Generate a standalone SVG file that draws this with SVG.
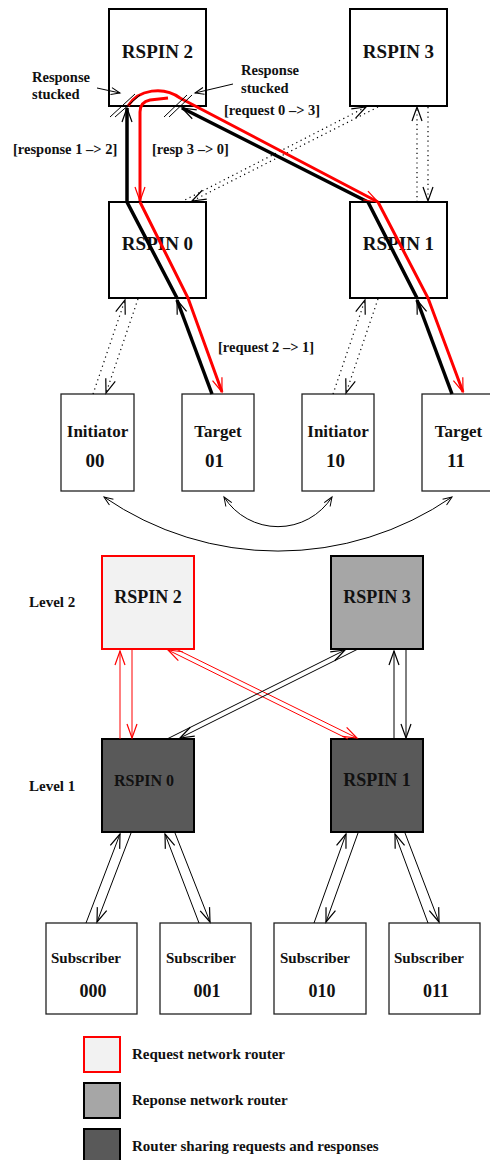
<svg xmlns="http://www.w3.org/2000/svg" width="490" height="1160" viewBox="0 0 490 1160">
<style>
.t{font-family:"Liberation Serif","Times New Roman",serif;font-weight:bold;fill:#111}
.box{fill:#fff;stroke:#000;stroke-width:2}
.tbox{fill:#fff;stroke:#222;stroke-width:1.3}
.thk{fill:none;stroke:#000;stroke-width:3.5}
.thr{fill:none;stroke:#f00;stroke-width:3}
.dot{fill:none;stroke:#000;stroke-width:1.2;stroke-dasharray:1.2 3.6}
.thin{fill:none;stroke:#000;stroke-width:1}
.thinr{fill:none;stroke:#f00;stroke-width:1}
</style>
<defs>
<marker id="ab" markerUnits="userSpaceOnUse" orient="auto" refX="0" refY="0" markerWidth="1" markerHeight="1" overflow="visible"><path d="M-14,-5 L0,0 L-14,5" fill="none" stroke="#000" stroke-width="1.2"/></marker>
<marker id="ar" markerUnits="userSpaceOnUse" orient="auto" refX="0" refY="0" markerWidth="1" markerHeight="1" overflow="visible"><path d="M-14,-5 L0,0 L-14,5" fill="none" stroke="#f00" stroke-width="1.2"/></marker>
<marker id="as" markerUnits="userSpaceOnUse" orient="auto-start-reverse" refX="0" refY="0" markerWidth="1" markerHeight="1" overflow="visible"><path d="M-9,-3.5 L0,0 L-9,3.5" fill="none" stroke="#000" stroke-width="1"/></marker>
</defs>
<rect width="490" height="1160" fill="#fff"/>

<!-- top section nodes -->
<g id="t-rspin2"><rect class="box" x="109" y="9" width="97" height="97"/><text class="t" x="157.5" y="58" font-size="19" text-anchor="middle">RSPIN 2</text></g>
<g id="t-rspin3"><rect class="box" x="350" y="9" width="97" height="97"/><text class="t" x="398.5" y="58" font-size="19" text-anchor="middle">RSPIN 3</text></g>
<g id="t-rspin0"><rect class="box" x="109" y="202" width="97" height="96"/><text class="t" x="157.5" y="250" font-size="19" text-anchor="middle">RSPIN 0</text></g>
<g id="t-rspin1"><rect class="box" x="350" y="202" width="97" height="96"/><text class="t" x="398.5" y="250" font-size="19" text-anchor="middle">RSPIN 1</text></g>
<g id="init00"><rect class="tbox" x="61" y="394" width="73" height="97"/><text class="t" x="97.5" y="437" font-size="17" text-anchor="middle">Initiator</text><text class="t" x="95" y="467" font-size="19" text-anchor="middle">00</text></g>
<g id="targ01"><rect class="tbox" x="182" y="394" width="72" height="97"/><text class="t" x="218" y="437" font-size="17" text-anchor="middle">Target</text><text class="t" x="214.5" y="467" font-size="19" text-anchor="middle">01</text></g>
<g id="init10"><rect class="tbox" x="302" y="394" width="72" height="97"/><text class="t" x="338" y="437" font-size="17" text-anchor="middle">Initiator</text><text class="t" x="335.5" y="467" font-size="19" text-anchor="middle">10</text></g>
<g id="targ11"><rect class="tbox" x="422" y="394" width="73" height="97"/><text class="t" x="458.5" y="437" font-size="17" text-anchor="middle">Target</text><text class="t" x="456" y="467" font-size="19" text-anchor="middle">11</text></g>

<!-- top labels -->
<g id="labels-top">
<text class="t" x="32" y="82" font-size="14.5">Response</text>
<text class="t" x="32" y="99" font-size="14.5">stucked</text>
<text class="t" x="241" y="75" font-size="14.5">Response</text>
<text class="t" x="241" y="93" font-size="14.5">stucked</text>
<text class="t" x="13" y="154" font-size="14.5">[response 1 –&gt; 2]</text>
<text class="t" x="152" y="154" font-size="14.5">[resp 3 –&gt; 0]</text>
<text class="t" x="224" y="115" font-size="14.5">[request 0 –&gt; 3]</text>
<text class="t" x="218" y="352" font-size="14.5">[request 2 –&gt; 1]</text>
</g>

<!-- top connectors -->
<g id="connectors-top">
<path class="dot" d="M378,107 L192,201" marker-end="url(#ab)"/>
<path class="dot" d="M181,202 L366,107" marker-end="url(#ab)"/>
<path class="dot" d="M417,202 L417,107" marker-end="url(#ab)"/>
<path class="dot" d="M428,107 L428,201" marker-end="url(#ab)"/>
<path class="dot" d="M93,394 L125,300" marker-end="url(#ab)"/>
<path class="dot" d="M138,299 L106,393" marker-end="url(#ab)"/>
<path class="dot" d="M333,394 L365,300" marker-end="url(#ab)"/>
<path class="dot" d="M378,299 L346,393" marker-end="url(#ab)"/>

<path class="thk" d="M177,298 L127,202 L127,108" marker-end="url(#ab)"/>
<path class="thk" d="M212,394 L177,300" marker-end="url(#ab)"/>
<path class="thk" d="M417,298 L368,202 L182,108" marker-end="url(#ab)"/>
<path class="thk" d="M452,394 L417,300" marker-end="url(#ab)"/>

<path class="thr" d="M128,106 C138,89 164,86 180,98 L378,202" marker-end="url(#ar)"/>
<path class="thr" d="M168,98 L150,100 Q140,102 140,112 L140,201" marker-end="url(#ar)"/>
<path class="thr" d="M140,202 L188,298 L222,392" marker-end="url(#ar)"/>
<path class="thr" d="M378,202 L428,298 L463,392" marker-end="url(#ar)"/>

<path class="thin" d="M110,117 L135,94 M115,117 L140,95 M164,117 L187,95 M169,117 L192,95"/>
<path class="thin" d="M97,88 L120,93" marker-end="url(#as)"/>
<path class="thin" d="M233,84 L195,93" marker-end="url(#as)"/>

<path class="thin" d="M104,497 A307,307 0 0 0 452,497" marker-start="url(#as)" marker-end="url(#as)"/>
<path class="thin" d="M224,497 A64,64 0 0 0 332,497" marker-start="url(#as)" marker-end="url(#as)"/>
</g>

<!-- bottom section nodes -->
<g id="level-labels">
<text class="t" x="29" y="607" font-size="15">Level 2</text>
<text class="t" x="29" y="791" font-size="15">Level 1</text>
</g>
<g id="b-rspin2"><rect x="102" y="556" width="92" height="93" fill="#f2f2f2" stroke="#f00" stroke-width="2"/><text class="t" x="148" y="603" font-size="18" text-anchor="middle">RSPIN 2</text></g>
<g id="b-rspin3"><rect x="331" y="556" width="92" height="93" fill="#a6a6a6" stroke="#000" stroke-width="2"/><text class="t" x="377" y="603" font-size="18" text-anchor="middle">RSPIN 3</text></g>
<g id="b-rspin0"><rect x="102" y="739" width="92" height="93" fill="#595959" stroke="#000" stroke-width="2"/><text class="t" x="144" y="786" font-size="16" text-anchor="middle">RSPIN 0</text></g>
<g id="b-rspin1"><rect x="331" y="739" width="92" height="93" fill="#595959" stroke="#000" stroke-width="2"/><text class="t" x="377" y="786" font-size="18" text-anchor="middle">RSPIN 1</text></g>
<g id="sub000"><rect class="tbox" x="46" y="923" width="91" height="91"/><text class="t" x="51" y="963" font-size="15">Subscriber</text><text class="t" x="93" y="997" font-size="18" text-anchor="middle">000</text></g>
<g id="sub001"><rect class="tbox" x="160" y="923" width="91" height="91"/><text class="t" x="166" y="963" font-size="15">Subscriber</text><text class="t" x="207" y="997" font-size="18" text-anchor="middle">001</text></g>
<g id="sub010"><rect class="tbox" x="274" y="923" width="92" height="91"/><text class="t" x="280" y="963" font-size="15">Subscriber</text><text class="t" x="322" y="997" font-size="18" text-anchor="middle">010</text></g>
<g id="sub011"><rect class="tbox" x="389" y="923" width="91" height="91"/><text class="t" x="394" y="963" font-size="15">Subscriber</text><text class="t" x="436" y="997" font-size="18" text-anchor="middle">011</text></g>

<!-- bottom connectors -->
<g id="connectors-bottom">
<path class="thinr" d="M120,739 L120,651" marker-end="url(#ar)"/>
<path class="thinr" d="M132,650 L132,738" marker-end="url(#ar)"/>
<path class="thinr" d="M348,739 L168,650" marker-end="url(#ar)"/>
<path class="thinr" d="M176,649 L357,738" marker-end="url(#ar)"/>
<path class="thin" d="M167,739 L345,650" marker-end="url(#ab)"/>
<path class="thin" d="M358,649 L180,738" marker-end="url(#ab)"/>
<path class="thin" d="M394,739 L394,651" marker-end="url(#ab)"/>
<path class="thin" d="M406,650 L406,738" marker-end="url(#ab)"/>
<path class="thin" d="M86,923 L120,834" marker-end="url(#ab)"/>
<path class="thin" d="M131,833 L97,922" marker-end="url(#ab)"/>
<path class="thin" d="M199,923 L165,834" marker-end="url(#ab)"/>
<path class="thin" d="M175,833 L210,922" marker-end="url(#ab)"/>
<path class="thin" d="M314,923 L346,834" marker-end="url(#ab)"/>
<path class="thin" d="M358,833 L326,922" marker-end="url(#ab)"/>
<path class="thin" d="M428,923 L395,834" marker-end="url(#ab)"/>
<path class="thin" d="M405,833 L439,922" marker-end="url(#ab)"/>
</g>

<!-- legend -->
<g id="legend">
<rect x="84" y="1037" width="36" height="35" fill="#f2f2f2" stroke="#f00" stroke-width="2"/>
<text class="t" x="132" y="1059" font-size="15">Request network router</text>
<rect x="84" y="1083" width="36" height="35" fill="#a6a6a6" stroke="#000" stroke-width="2"/>
<text class="t" x="132" y="1105" font-size="15">Reponse network router</text>
<rect x="84" y="1129" width="36" height="35" fill="#595959" stroke="#000" stroke-width="2"/>
<text class="t" x="132" y="1151" font-size="15">Router sharing requests and responses</text>
</g>
</svg>
